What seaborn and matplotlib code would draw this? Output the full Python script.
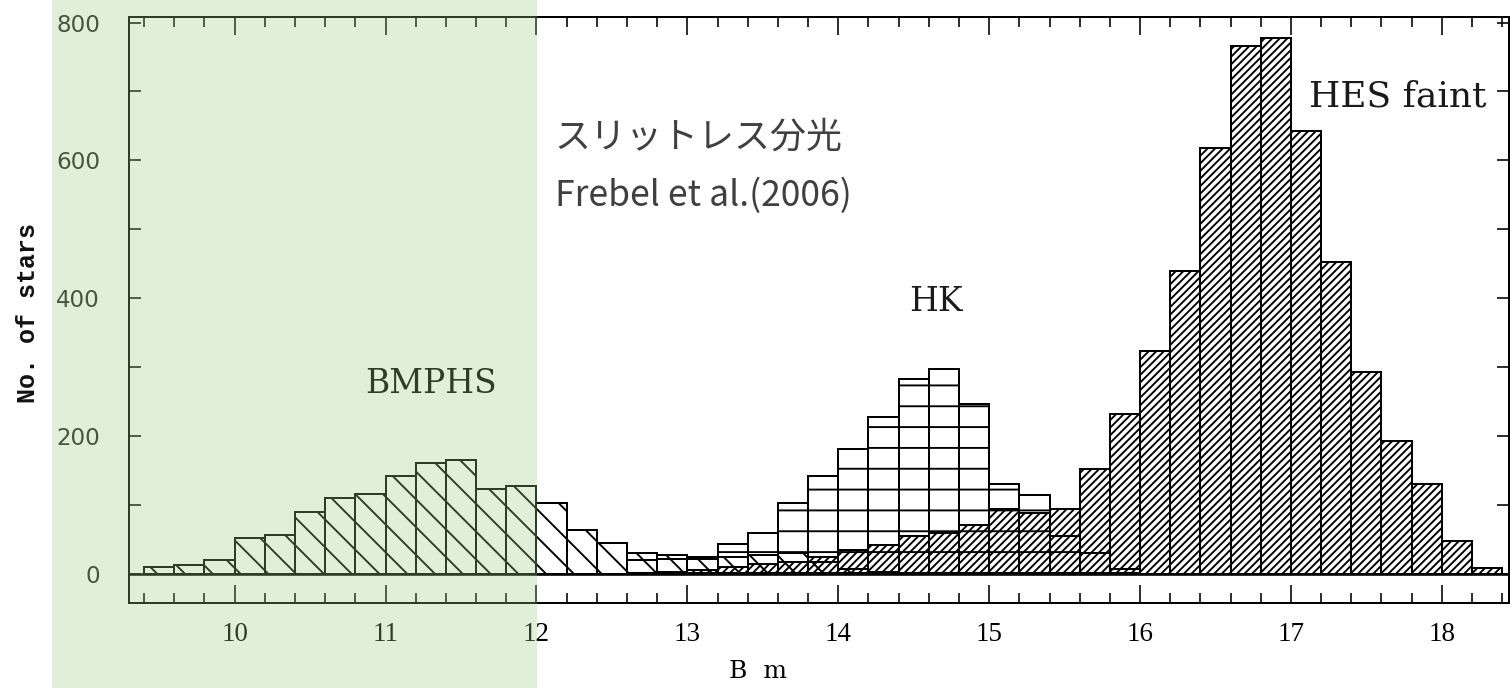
import numpy as np
import pandas as pd
import matplotlib
matplotlib.use("Agg")
import matplotlib.pyplot as plt
import seaborn as sns
from matplotlib.patches import Rectangle
from matplotlib.ticker import MultipleLocator, FixedLocator

# ---------------- data ----------------
bin_width = 0.2

bmphs_first_bin = 9.4
bmphs_counts = [10, 13, 21, 52, 57, 90, 111, 116, 142, 161, 165, 123, 127,
                103, 64, 45, 30, 28, 22, 25, 28, 30, 18, 8, 3]

hk_first_bin = 12.6
hk_counts = [20, 22, 25, 44, 60, 103, 142, 182, 228, 283, 297, 247, 131,
             115, 55, 30, 8]

hes_first_bin = 12.8
hes_counts = [3, 6, 10, 14, 18, 25, 35, 42, 55, 60, 71, 94, 88, 94, 153,
              232, 323, 440, 618, 766, 777, 643, 453, 293, 193, 131, 48, 9]

sample_names = ["BMPHS", "HK", "HES faint"]
x_ticks = [10, 11, 12, 13, 14, 15, 16, 17, 18]
y_ticks = [0, 200, 400, 600, 800]
note_lines = ["スリットレス分光", "Frebel et al.(2006)"]
x_label = "B  m"
y_label = "No. of stars"

# ---------------- figure ----------------
DPI = 250
W, H = 1511, 688


def pt(px):
    """pixels -> points at the output resolution"""
    return px * 72.0 / DPI


sns.set_theme(style="white")
plt.rcParams["font.family"] = ["DejaVu Sans"]
plt.rcParams["hatch.linewidth"] = pt(1.9)

fig = plt.figure(figsize=(W / DPI, H / DPI), dpi=DPI)
ax = fig.add_axes([129 / W, 1 - 603 / H, (1509 - 129) / W, (603 - 17) / H])
ax.set_facecolor("white")


def hist_frame(first_bin, counts):
    n = len(counts)
    edges = np.round(first_bin + bin_width * np.arange(n + 1), 3)
    centers = edges[:-1] + bin_width / 2
    return pd.DataFrame({"mag": centers, "n": counts}), edges.tolist()


for counts, first, hatch in [(bmphs_counts, bmphs_first_bin, "\\" * 3),
                             (hk_counts, hk_first_bin, "-" * 2),
                             (hes_counts, hes_first_bin, "/" * 11)]:
    df, edges = hist_frame(first, counts)
    sns.histplot(data=df, x="mag", weights="n", bins=edges, ax=ax,
                 fill=True, facecolor="none", edgecolor="black",
                 linewidth=pt(2.0), hatch=hatch, stat="count")

ax.axhline(0, color="black", lw=pt(2.6), zorder=3)

ax.set_xlim(9.3, 18.445)
ax.set_ylim(-42, 808)
ax.set_xlabel("")
ax.set_ylabel("")

ax.xaxis.set_major_locator(FixedLocator(x_ticks))
ax.xaxis.set_minor_locator(MultipleLocator(0.2))
ax.yaxis.set_major_locator(FixedLocator(y_ticks))
ax.yaxis.set_minor_locator(MultipleLocator(100))
ax.set_xticklabels([str(t) for t in x_ticks], family="Liberation Serif",
                   fontsize=pt(27), color="black")
ax.set_yticklabels([str(t) for t in y_ticks], family="DejaVu Sans",
                   fontsize=pt(23), color="#222222")
ax.tick_params(axis="x", which="major", direction="in", length=pt(18),
               width=pt(1.6), top=True, bottom=True, pad=pt(19), color="black")
ax.tick_params(axis="x", which="minor", direction="in", length=pt(10),
               width=pt(1.6), top=True, bottom=True, color="black")
ax.tick_params(axis="y", which="both", direction="in", length=pt(12),
               width=pt(1.6), left=True, right=True, color="black")
ax.tick_params(axis="y", which="major", pad=pt(29))
for s in ax.spines.values():
    s.set_visible(True)
    s.set_color("black")
    s.set_linewidth(pt(2.0))

# annotations
serif = "DejaVu Serif"
ax.text(11.30, 276, sample_names[0], family=serif, fontsize=pt(33),
        ha="center", va="center", color="black")
ax.text(14.65, 395, sample_names[1], family=serif, fontsize=pt(33),
        ha="center", va="center", color="#1a1a1a")
ax.text(17.12, 692, sample_names[2], family=serif, fontsize=pt(36),
        ha="left", va="center", color="#1a1a1a")

jp = ["Noto Sans CJK JP", "DejaVu Sans"]
ax.text(12.12, 633, note_lines[0], family=jp, fontsize=pt(36),
        ha="left", va="center", color="#404040")
ax.text(12.12, 548, note_lines[1], family=jp, fontsize=pt(35.5),
        ha="left", va="center", color="#404040")

fig.text(758 / W, 1 - 672 / H, x_label, family=serif, fontsize=pt(25),
         ha="center", va="center", color="black")
fig.text(28 / W, 1 - 313 / H, y_label, family="Liberation Mono",
         fontweight="bold", fontsize=pt(25), rotation=90,
         ha="center", va="center", color="#111111")

# light green highlight band (multiply-looking overlay)
fig.add_artist(Rectangle((52 / W, 0), (537 - 52) / W, 1,
                         transform=fig.transFigure,
                         facecolor=(158 / 255, 201 / 255, 132 / 255),
                         edgecolor="none", alpha=0.3, zorder=100))

fig.savefig("out.png", dpi=DPI)
